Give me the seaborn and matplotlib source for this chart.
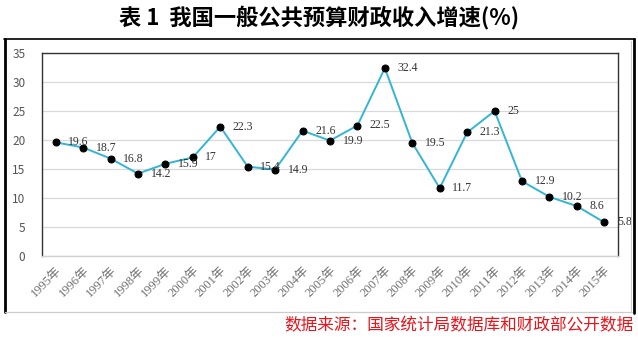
import matplotlib
matplotlib.use("Agg")
import matplotlib.pyplot as plt
from matplotlib.lines import Line2D
import seaborn as sns
import pandas as pd

years = ["1995年", "1996年", "1997年", "1998年", "1999年", "2000年", "2001年",
         "2002年", "2003年", "2004年", "2005年", "2006年", "2007年", "2008年",
         "2009年", "2010年", "2011年", "2012年", "2013年", "2014年", "2015年"]
growth = [19.6, 18.7, 16.8, 14.2, 15.9, 17, 22.3, 15.4, 14.9, 21.6, 19.9,
          22.5, 32.4, 19.5, 11.7, 21.3, 25, 12.9, 10.2, 8.6, 5.8]
y_ticks = [0, 5, 10, 15, 20, 25, 30, 35]

title = "表 1  我国一般公共预算财政收入增速(%)"
source = "数据来源：国家统计局数据库和财政部公开数据"

sns.set_theme(style="white")
plt.rcParams["font.family"] = ["Noto Sans CJK SC", "DejaVu Sans"]
serif = ["Liberation Serif", "Noto Sans CJK SC"]

df = pd.DataFrame({"pos": range(len(years)), "growth": growth})

fig = plt.figure(figsize=(6.38, 3.37), dpi=100)
ax = fig.add_axes([42 / 638, 1 - 256 / 337, (618 - 42) / 638, (256 - 53) / 337])

sns.lineplot(data=df, x="pos", y="growth", ax=ax, color="#33b5d6", lw=1.4,
             marker="o", markersize=5, markerfacecolor="black",
             markeredgecolor="black", zorder=3)

for i, v in enumerate(growth):
    ax.annotate(f"{v:g}", (i, v), xytext=(9, 0), textcoords="offset points",
                ha="left", va="center", fontsize=8.5, family=serif,
                color="#333333", zorder=4)

ax.set_xlim(-0.5, len(years) - 0.5)
ax.set_ylim(0, 35)
ax.set_yticks(y_ticks)
ax.set_yticklabels([str(t) for t in y_ticks], fontsize=8.5, color="#555555")
ax.set_xticks(range(len(years)))
ax.set_xticklabels(years, rotation=45, ha="right", rotation_mode="anchor",
                   fontsize=9, family=serif, color="#707070")
ax.tick_params(axis="both", length=0, pad=6)
ax.tick_params(axis="y", pad=12)
ax.set_xlabel("")
ax.set_ylabel("")
ax.yaxis.grid(True, color="#d9d9d9", lw=0.9)
ax.set_axisbelow(True)
for side in ("left", "top", "right"):
    ax.spines[side].set_color("#333333")
    ax.spines[side].set_linewidth(1.0)
ax.spines["bottom"].set_color("#d0d0d0")
ax.spines["bottom"].set_linewidth(1.0)

# outer frame around the chart
def fx(px):
    return px / 638

def fy(py):
    return 1 - py / 337

fig.add_artist(Line2D([fx(4), fx(635)], [fy(39), fy(39)], color="black", lw=1.2))
fig.add_artist(Line2D([fx(5), fx(5)], [fy(39), fy(312)], color="black", lw=2.0))
fig.add_artist(Line2D([fx(634), fx(634)], [fy(39), fy(313)], color="black", lw=2.0))
fig.add_artist(Line2D([fx(631), fx(631)], [fy(41), fy(311)], color="#cccccc", lw=0.8))
fig.add_artist(Line2D([fx(5), fx(632)], [fy(312), fy(312)], color="#cccccc", lw=0.9))

fig.text(0.5, fy(17), title, ha="center", va="center", fontsize=16,
         fontweight="bold", color="black")
fig.text(fx(633), fy(326), source, ha="right", va="center", fontsize=12,
         color="#e8141b", style="italic")

fig.savefig("out.png", dpi=100)
